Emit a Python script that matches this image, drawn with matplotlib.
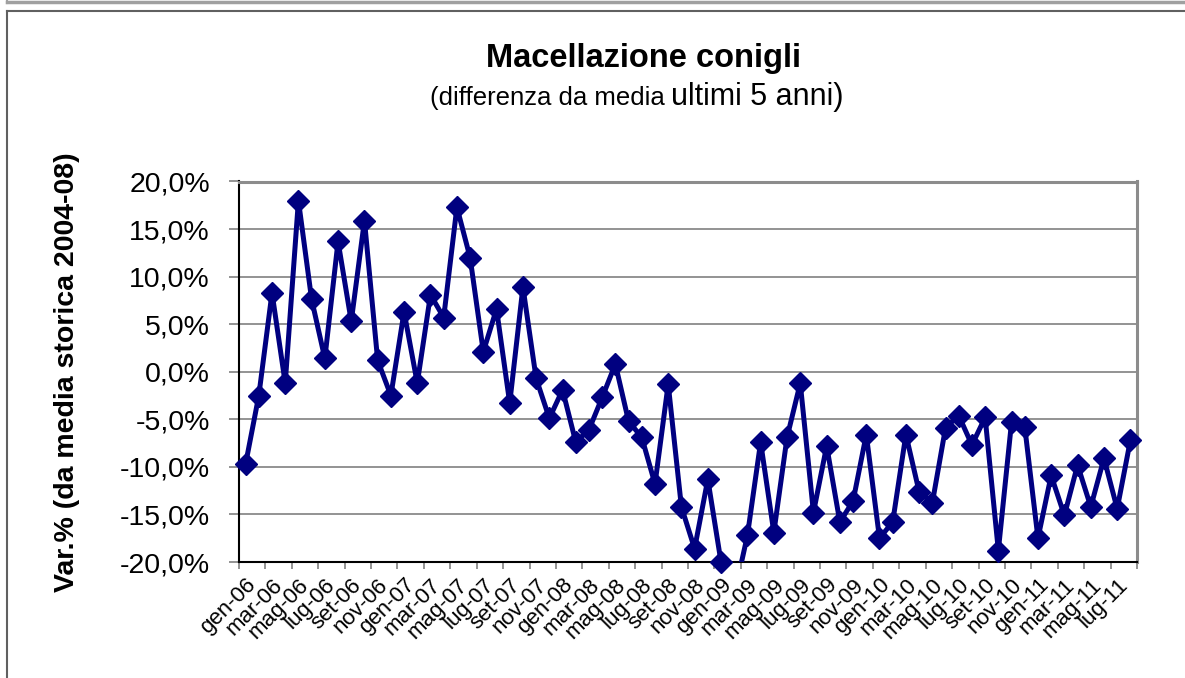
import matplotlib
matplotlib.use("Agg")
import matplotlib.pyplot as plt
import numpy as np
from matplotlib.lines import Line2D

plt.rcParams['font.family'] = ['Liberation Sans', 'DejaVu Sans']

mesi = ["gen", "feb", "mar", "apr", "mag", "giu", "lug", "ago", "set", "ott", "nov", "dic"]
anni = ["06", "07", "08", "09", "10", "11"]
categories = [f"{m}-{a}" for a in anni for m in mesi][:68]

values = [
    -9.7, -2.5, 8.3, -1.2, 18.0, 7.6, 1.4, 13.7, 5.3, 15.9, 1.2, -2.5,
    6.3, -1.2, 8.1, 5.7, 17.3, 12.0, 2.1, 6.6, -3.3, 8.9, -0.7, -4.9,
    -1.9, -7.4, -6.1, -2.7, 0.8, -5.2, -6.9, -11.8, -1.3, -14.2, -18.6, -11.3,
    -20.0, -23.5, -17.2, -7.4, -16.9, -6.9, -1.2, -14.8, -7.8, -15.8, -13.6, -6.6,
    -17.5, -15.8, -6.6, -12.6, -13.8, -5.9, -4.6, -7.7, -4.8, -18.8, -5.3, -5.8,
    -17.5, -10.9, -15.1, -9.8, -14.2, -9.1, -14.4, -7.2,
]

y_ticks = [20, 15, 10, 5, 0, -5, -10, -15, -20]
y_tick_labels = ["20,0%", "15,0%", "10,0%", "5,0%", "0,0%", "-5,0%", "-10,0%", "-15,0%", "-20,0%"]

title = "Macellazione conigli"
subtitle_a = "(differenza da media"
subtitle_b = "ultimi 5 anni)"
ylabel = "Var.% (da media storica 2004-08)"

W, H = 1185, 678
fig = plt.figure(figsize=(W / 100, H / 100), dpi=100)

ax = fig.add_axes([239 / W, 1 - 562 / H, (1137 - 239) / W, (562 - 181.5) / H])

x = np.arange(len(values))
vals = np.array(values, dtype=float)
navy = "#000080"
ax.plot(x, vals, color=navy, lw=3.6, zorder=3, solid_joinstyle="miter")
mvals = np.ma.masked_where(vals < -20.01, vals)
ax.plot(x, mvals, ls="none", marker="D", ms=11, color=navy, mec=navy, mew=1,
        clip_on=False, zorder=4)

ax.set_ylim(-20, 20)
ax.set_xlim(-0.5, len(values) - 0.5)
ax.set_yticks(y_ticks)
ax.set_yticklabels(y_tick_labels, fontsize=20.5)
ax.yaxis.grid(True, color="#808080", lw=1.2)
ax.set_axisbelow(True)

# category boundary tick marks every 2 categories
ax.set_xticks(np.arange(-0.5, len(values), 2))
ax.set_xticklabels([])
ax.set_xticks(np.arange(0, len(values), 2), minor=True)
ax.set_xticklabels(categories[::2], minor=True, rotation=45, ha="right",
                   va="top", rotation_mode="anchor", fontsize=16)
ax.tick_params(axis="x", which="minor", length=0, pad=9)
ax.tick_params(axis="x", which="major", length=5, width=1.2, color="#808080", direction="out")
ax.tick_params(axis="y", length=7, width=1.2, color="#808080", direction="out", pad=14)

for s in ["left", "bottom"]:
    ax.spines[s].set_color("black")
    ax.spines[s].set_linewidth(1.5)
for s in ["top", "right"]:
    ax.spines[s].set_color("#8c8c8c")
    ax.spines[s].set_linewidth(2.2)

ax.set_ylabel(ylabel, fontsize=20.5, fontweight="bold")
ax.yaxis.set_label_coords(-(239 - 80) / (1137 - 239), 0.5)

fig.text(643 / W, 1 - 59 / H, title, fontsize=23.5, fontweight="bold", ha="center", va="center")
fig.text(665 / W, 1 - 105 / H, subtitle_a, fontsize=18.5, ha="right", va="baseline")
fig.text(671 / W, 1 - 105 / H, subtitle_b, fontsize=22, ha="left", va="baseline")

# outer frames
fig.add_artist(Line2D([7 / W, 1], [1 - 2 / H, 1 - 2 / H], color="#a0a0a0", lw=2.5))
fig.add_artist(Line2D([7 / W, 7 / W], [1 - 0 / H, 1 - 3 / H], color="#a0a0a0", lw=1.5))
fig.add_artist(Line2D([7 / W, 1], [1 - 11 / H, 1 - 11 / H], color="#606060", lw=1.5))
fig.add_artist(Line2D([7 / W, 7 / W], [1 - 11 / H, 0], color="#606060", lw=1.5))

fig.savefig("out.png", dpi=100)
